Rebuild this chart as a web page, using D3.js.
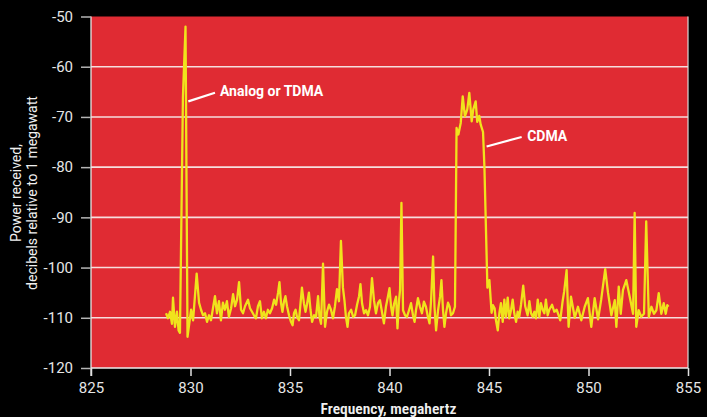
<!DOCTYPE html>
<html><head><meta charset="utf-8">
<script src="https://cdn.jsdelivr.net/npm/d3@7/dist/d3.min.js"></script>
<style>html,body{margin:0;padding:0;background:#000;} svg{display:block;}</style>
</head><body><svg id="chart" width="707" height="417"></svg>
<script>
// Frequency (MHz) of each sample
const frequency = [
828.77,828.87,828.97,829.07,829.12,829.22,829.32,829.40,829.47,829.62,829.75,829.85,
830.03,830.13,830.31,830.43,830.53,830.63,830.73,830.83,830.93,831.03,831.13,831.23,
831.33,831.43,831.53,831.63,831.73,831.83,831.93,832.04,832.14,832.24,832.34,832.44,
832.54,832.64,832.74,832.89,832.99,833.09,833.19,833.29,833.39,833.49,833.59,833.69,
833.79,833.89,833.99,834.10,834.20,834.30,834.40,834.47,834.55,834.62,834.70,834.77,
834.85,834.95,835.05,835.13,835.20,835.28,835.35,835.45,835.53,835.60,835.70,835.78,
835.85,835.95,836.03,836.11,836.21,836.31,836.41,836.48,836.56,836.66,836.76,836.86,
836.96,837.06,837.16,837.26,837.36,837.46,837.56,837.66,837.74,837.81,837.89,837.96,
838.07,838.17,838.27,838.37,838.47,838.54,838.62,838.72,
838.82,838.92,839.02,839.12,839.22,839.32,839.42,839.52,839.62,839.72,839.82,839.92,
840.00,840.08,840.15,840.23,840.33,840.40,840.48,840.53,840.60,840.68,840.78,840.88,
840.98,841.08,841.18,841.26,841.33,841.43,841.53,841.63,841.73,841.83,841.93,842.01,
842.09,842.19,842.26,842.34,842.44,842.54,842.61,842.69,842.76,842.84,842.94,843.02,
843.09,843.19,843.29,
843.37,843.46,843.58,843.68,843.79,843.91,844.01,844.13,844.21,844.33,844.41,844.51,
844.58,844.70,844.77,844.92,845.02,845.13,845.20,845.28,845.35,845.44,845.52,845.60,
845.69,845.77,845.85,845.94,846.02,846.11,846.19,846.27,846.36,846.44,846.52,846.61,
846.72,846.82,846.94,847.03,847.11,847.20,847.28,847.36,847.45,847.53,847.61,847.70,
847.78,847.86,847.95,848.03,848.17,848.28,848.40,848.50,848.58,848.70,848.78,848.90,
849.00,849.12,849.31,849.47,849.64,849.81,849.97,850.14,850.31,850.48,850.64,850.84,
850.98,851.15,851.32,851.40,851.52,851.62,851.73,851.90,852.07,852.24,852.32,852.40,
852.52,852.65,852.79,852.90,853.03,853.16,853.29,853.41,853.53,853.66,853.78,853.88,
853.96,854.02
];
// Power received (dB relative to 1 megawatt)
const power = [
-109.1,-110.1,-108.8,-111.2,-106.0,-111.8,-108.8,-112.5,-113.0,-66.0,-52.0,-113.8,
-108.4,-110.5,-101.2,-107.0,-108.4,-109.5,-109.1,-110.8,-109.5,-110.5,-108.1,-105.7,
-109.1,-106.7,-110.5,-107.0,-108.4,-106.7,-109.8,-108.1,-105.3,-107.7,-106.4,-102.9,
-108.4,-109.1,-107.7,-106.4,-108.1,-108.8,-109.5,-110.1,-107.7,-106.7,-110.1,-108.8,
-110.1,-108.4,-109.1,-108.1,-106.4,-107.4,-105.0,-102.9,-107.1,-108.8,-106.7,-105.7,
-107.7,-109.5,-110.8,-111.5,-109.1,-108.4,-109.8,-110.5,-107.1,-104.0,-107.1,-108.8,
-107.4,-105.0,-108.4,-110.8,-109.5,-109.8,-105.7,-109.8,-111.2,-99.2,-111.8,-108.8,
-107.4,-108.4,-110.1,-107.7,-104.3,-106.7,-94.7,-104.0,-106.7,-109.8,-111.8,-109.1,
-108.4,-109.8,-109.5,-107.4,-105.7,-103.3,-107.1,-109.1,
-108.5,-109.5,-107.8,-102.1,-106.5,-109.1,-107.1,-106.5,-108.8,-111.1,-107.8,-105.8,
-104.1,-107.8,-109.5,-107.2,-105.8,-112.1,-106.5,-104.5,-87.1,-108.5,-109.5,-109.8,
-108.5,-107.1,-109.5,-110.8,-108.5,-106.1,-107.8,-109.1,-106.8,-107.8,-109.8,-111.1,
-106.5,-97.8,-107.8,-112.5,-108.5,-105.8,-102.5,-108.5,-111.8,-109.1,-107.0,-107.8,
-109.5,-109.1,-107.8,
-72.2,-73.5,-71.2,-65.9,-69.9,-68.5,-65.2,-70.9,-68.5,-66.9,-71.0,-69.8,
-71.5,-73.0,-80.0,-104.0,-102.5,-109.0,-107.5,-108.1,-110.5,-112.5,-109.1,-107.1,
-110.8,-106.4,-109.8,-106.0,-110.1,-108.4,-106.4,-109.1,-110.8,-108.8,-109.8,-107.4,
-103.6,-107.7,-109.5,-106.7,-109.1,-109.8,-108.8,-110.1,-106.4,-109.8,-107.1,-108.4,
-109.1,-106.4,-109.5,-108.4,-107.4,-108.8,-108.4,-109.5,-110.5,-106.7,-104.7,-100.5,
-111.8,-105.8,-110.0,-107.8,-110.5,-107.8,-106.1,-111.8,-106.1,-110.3,-106.3,-100.3,
-105.0,-109.5,-106.5,-111.8,-103.8,-109.2,-104.5,-102.5,-105.8,-109.2,-89.1,-111.8,
-108.5,-109.8,-109.2,-90.8,-109.8,-107.8,-109.2,-108.5,-105.1,-109.2,-107.1,-109.2,
-107.5,-107.8
];
const xTicks = [825, 830, 835, 840, 845, 850, 855];
const yTicks = [-50, -60, -70, -80, -90, -100, -110, -120];
const annotationLabels = ["Analog or TDMA", "CDMA"];
const annotationText = [[831.48, -65.8], [846.92, -74.7]];      // label anchor (freq, dB)
const annotationLeader = [[[829.89, -66.9], [831.23, -65.2]], [[844.88, -75.9], [846.64, -74.0]]];

const W = 707, H = 417;
const margin = {left: 91, right: 19, top: 16.5, bottom: 49};
const svg = d3.select("#chart");
svg.append("rect").attr("width", W).attr("height", H).attr("fill", "#000");

const x = d3.scaleLinear().domain([825, 855]).range([margin.left, W - margin.right]);
const y = d3.scaleLinear().domain([-120, -50]).range([H - margin.bottom, margin.top]);

const font = "Roboto, 'Noto Sans', sans-serif";

// plot background
svg.append("rect")
  .attr("x", x(825)).attr("y", y(-50))
  .attr("width", x(855) - x(825)).attr("height", y(-120) - y(-50))
  .attr("fill", "#e02b33");

// right border
svg.append("line")
  .attr("x1", x(855)).attr("x2", x(855)).attr("y1", y(-50)).attr("y2", y(-120))
  .attr("stroke", "#d9d9d9").attr("stroke-width", 1.2);

// gridlines
svg.append("g").selectAll("line")
  .data(yTicks.filter(d => d > -120 && d < -50))
  .join("line")
  .attr("x1", x(825)).attr("x2", x(855))
  .attr("y1", d => y(d)).attr("y2", d => y(d))
  .attr("stroke", "#f6dede").attr("stroke-width", 1.6);

// y axis
const yAxis = svg.append("g").attr("transform", `translate(${x(825)},0)`)
  .call(d3.axisLeft(y).tickValues(yTicks).tickSize(10).tickPadding(8).tickFormat(d => String(d)));
yAxis.select(".domain").attr("stroke", "#e8e8e8").attr("stroke-width", 1.3)
  .attr("d", `M0,${y(-50)}V${y(-120) + 8}`);
yAxis.selectAll(".tick line").attr("stroke", "#b5b5b5").attr("stroke-width", 1.5);
yAxis.selectAll(".tick text").attr("fill", "#e6e6e6")
  .style("font-family", font).style("font-size", "15px");

// x axis
const xAxis = svg.append("g").attr("transform", `translate(0,${y(-120)})`)
  .call(d3.axisBottom(x).tickValues(xTicks).tickSize(8).tickPadding(6).tickFormat(d => String(d)));
xAxis.select(".domain").attr("stroke", "#ececec").attr("stroke-width", 1.6)
  .attr("d", `M${x(825)},0H${x(855)}`);
xAxis.selectAll(".tick line").attr("stroke", "#e0e0e0").attr("stroke-width", 1.5);
xAxis.selectAll(".tick text").attr("fill", "#e6e6e6")
  .style("font-family", font).style("font-size", "15px");

// axis titles
svg.append("text")
  .attr("x", (x(825) + x(855)) / 2 - 1).attr("y", 414)
  .attr("text-anchor", "middle").attr("fill", "#f0f0f0")
  .style("font-family", "'Roboto Condensed','Liberation Sans Narrow','DejaVu Sans Condensed',sans-serif")
  .style("font-size", "15.5px").style("font-weight", "600")
  .text("Frequency, megahertz");

const yTitle = svg.append("text")
  .attr("transform", "translate(0,193) rotate(-90)")
  .attr("text-anchor", "middle").attr("fill", "#f0f0f0")
  .style("font-family", font).style("font-size", "14px");
yTitle.append("tspan").attr("x", 0).attr("y", 20.5).text("Power received,");
yTitle.append("tspan").attr("x", 0).attr("y", 36.5).text("decibels relative to 1 megawatt");

// the spectrum trace
const series = frequency.map((f, i) => [f, power[i]]);
svg.append("path")
  .datum(series)
  .attr("fill", "none")
  .attr("stroke", "#f0e31c")
  .attr("stroke-width", 2.3)
  .attr("stroke-linejoin", "round")
  .attr("d", d3.line().x(d => x(d[0])).y(d => y(d[1])));

// annotations
annotationLabels.forEach((label, i) => {
  const [a, b] = annotationLeader[i];
  svg.append("line")
    .attr("x1", x(a[0])).attr("y1", y(a[1]))
    .attr("x2", x(b[0])).attr("y2", y(b[1]))
    .attr("stroke", "#ffffff").attr("stroke-width", 2.2);
  svg.append("text")
    .attr("x", x(annotationText[i][0])).attr("y", y(annotationText[i][1]))
    .attr("fill", "#ffffff")
    .style("font-family", font).style("font-size", "14px").style("font-weight", "bold")
    .text(label);
});
</script></body></html>
